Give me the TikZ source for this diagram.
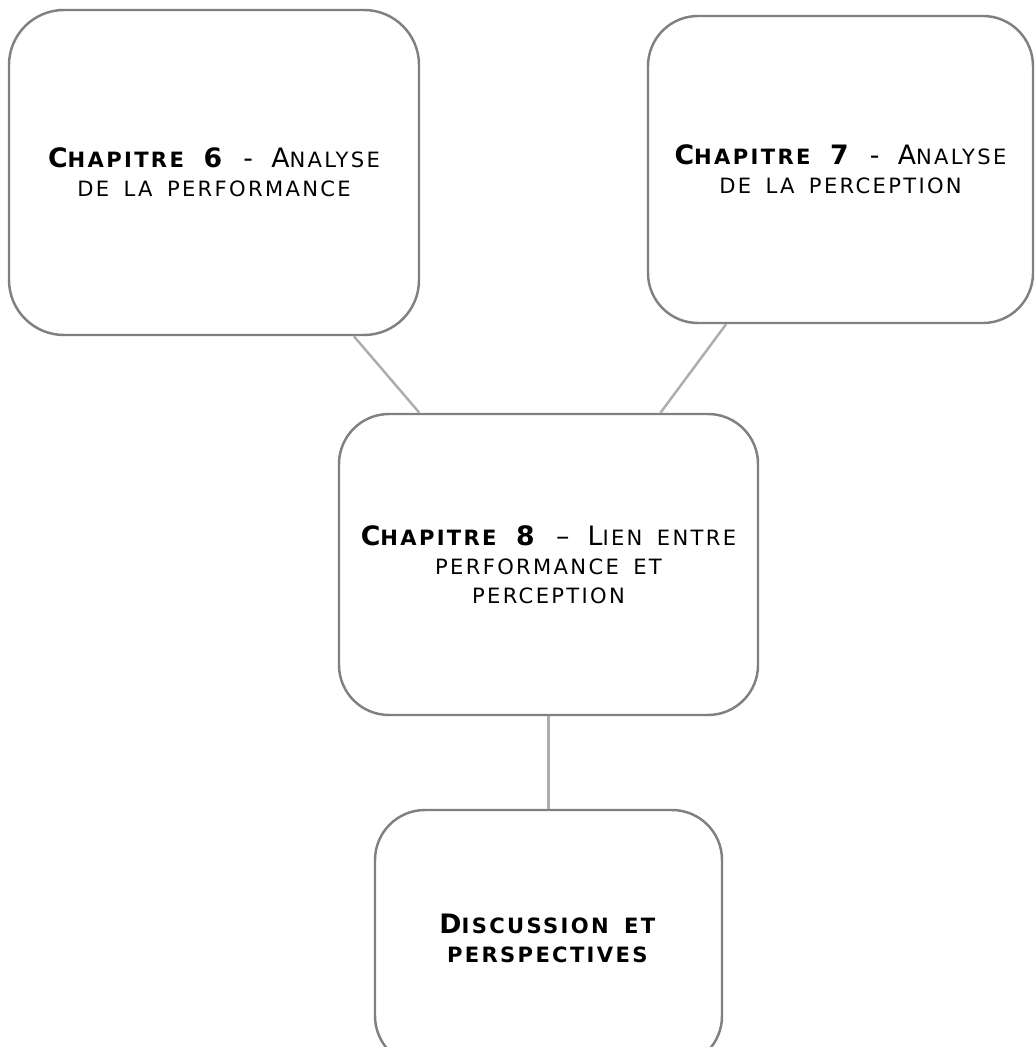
\documentclass[tikz,border=0pt]{standalone}
\usepackage{fontspec}
\setmainfont[LetterSpace=11,WordSpace=1.6]{DejaVu Sans}
\usetikzlibrary{positioning}

% petites capitales simulees
\newcommand{\psc}[1]{{\fontsize{12pt}{16.4pt}\selectfont #1}}

\tikzset{
  chapbox/.style={draw=black!50, line width=1.4pt, rounded corners=1cm,
    align=center, font=\fontsize{15.2pt}{16.4pt}\selectfont},
  lien/.style={draw=black!32, line width=1.4pt}
}

\begin{document}
\begin{tikzpicture}
  \clip (0,0) rectangle (20.68,-20.94);
  \useasboundingbox (0,0) rectangle (20.68,-20.94);
  % chapitres d'analyse
  \node[chapbox, minimum width=8.2cm, minimum height=6.5cm, rounded corners=1.1cm] (ch6) at (4.28,-3.45)
    {\textbf{C\psc{HAPITRE} 6} - A\psc{NALYSE}\\ \psc{DE LA PERFORMANCE}};
  \node[chapbox, minimum width=7.7cm, minimum height=6.14cm] (ch7) at (16.81,-3.39)
    {\textbf{C\psc{HAPITRE} 7} - A\psc{NALYSE}\\ \psc{DE LA PERCEPTION}};
  % synthese
  \node[chapbox, minimum width=8.38cm, minimum height=6.02cm] (ch8) at (10.97,-11.29)
    {\textbf{C\psc{HAPITRE} 8} -- L\psc{IEN ENTRE}\\ \psc{PERFORMANCE ET}\\ \psc{PERCEPTION}};
  \node[chapbox, minimum width=6.94cm, minimum height=5.12cm] (disc) at (10.97,-18.76)
    {\textbf{D\psc{ISCUSSION ET}}\\ \textbf{\psc{PERSPECTIVES}}};
  % liens
  \draw[lien] (ch6) -- (ch8);
  \draw[lien] (ch7) -- (ch8);
  \draw[lien] (ch8) -- (disc);
\end{tikzpicture}
\end{document}
